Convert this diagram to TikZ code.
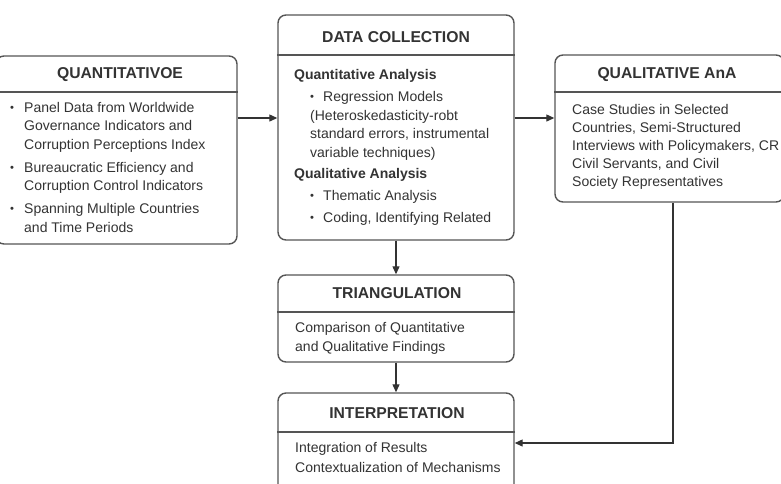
\documentclass[tikz,border=0pt]{standalone}
\usepackage{fontspec}
\setmainfont{Liberation Sans}
\usetikzlibrary{arrows.meta}
\definecolor{ink}{HTML}{333333}
\definecolor{edgegray}{HTML}{555555}
\definecolor{linegray}{HTML}{333333}
\newcommand{\bul}{\makebox[14pt][l]{\raisebox{0.15ex}{\scalebox{0.8}{\textbullet}}}}
\newcommand{\dbul}{\hspace*{16pt}\makebox[13pt][l]{\raisebox{0.15ex}{\scalebox{0.8}{\textbullet}}}}
\newcommand{\ind}{\hspace*{14pt}}
\newcommand{\topr}{\rule{0pt}{11pt}}
\begin{document}
\begin{tikzpicture}[x=1pt,y=-1pt,
  box/.style={draw=edgegray, line width=1.4pt, rounded corners=8pt, inner sep=0pt, fill=white},
  divider/.style={draw=edgegray, line width=1.4pt},
  head/.style={font=\bfseries\fontsize{15.7}{18}\selectfont, text=ink, inner sep=0pt, anchor=center},
  body/.style={font=\fontsize{14}{18.5}\selectfont, text=ink, align=left, inner sep=0pt, anchor=north west},
  conn/.style={draw=linegray, line width=1.2pt, -{Triangle[length=8pt,width=7pt]}}
]
\useasboundingbox (0,0) rectangle (781,483);

% boxes
\node[box, minimum width=241pt, minimum height=188pt] (left) at (116.5,150) {};
\node[box, minimum width=236pt, minimum height=225pt] (dc) at (396,127.5) {};
\node[box, minimum width=229pt, minimum height=147pt] (qual) at (669.5,128.5) {};
\node[box, minimum width=236pt, minimum height=87pt] (tri) at (396,318.5) {};
\node[box, minimum width=236pt, minimum height=107pt] (int) at (396,446.5) {};

% dividers
\draw[divider] (left.west |- 0,92) -- (left.east |- 0,92);
\draw[divider] (dc.west |- 0,55) -- (dc.east |- 0,55);
\draw[divider] (qual.west |- 0,92) -- (qual.east |- 0,92);
\draw[divider] (tri.west |- 0,312) -- (tri.east |- 0,312);
\draw[divider] (int.west |- 0,432) -- (int.east |- 0,432);

% headers
\node[head] (lefth) at (120,75) {QUANTITATIVOE};
\node[head] (dch) at (396,37) {DATA COLLECTION};
\node[head] (qualh) at (667,75) {QUALITATIVE AnA};
\node[head] (trih) at (397,293) {TRIANGULATION};
\node[head] (inth) at (397,413) {INTERPRETATION};

% bodies (y = first baseline - 11)
\node[body] (leftb) at (10,101) {%
\topr\bul Panel Data from Worldwide\\
\ind Governance Indicators and\\
\ind Corruption Perceptions Index\\[4.5pt]
\bul Bureaucratic Efficiency and\\
\ind Corruption Control Indicators\\[4.5pt]
\bul Spanning Multiple Countries\\
\ind and Time Periods};

\node[body] (dcb) at (294,68.5) {%
\topr\textbf{Quantitative Analysis}\\[3.5pt]
\dbul Regression Models\\
\hspace*{16pt}(Heteroskedasticity-robt\\
\hspace*{16pt}standard errors, instrumental\\
\hspace*{16pt}variable techniques)\\[2.5pt]
\textbf{Qualitative Analysis}\\[3.5pt]
\dbul Thematic Analysis\\[3.5pt]
\dbul Coding, Identifying Related};

\node[body, font=\fontsize{14}{18}\selectfont] (qualb) at (572,103.5) {%
\topr Case Studies in Selected\\
Countries, Semi-Structured\\
Interviews with Policymakers, CR\\
Civil Servants, and Civil\\
Society Representatives};

\node[body, font=\fontsize{14}{19}\selectfont] (trib) at (295,321.5) {%
\topr Comparison of Quantitative\\
and Qualitative Findings};

\node[body, font=\fontsize{14}{20}\selectfont] (intb) at (295,441.5) {%
\topr Integration of Results\\
Contextualization of Mechanisms};

% connectors
\draw[conn] (left.east |- 0,118) -- (dc.west |- 0,118);
\draw[conn] (dc.east |- 0,118) -- (qual.west |- 0,118);
\draw[conn] (dc.south) -- (tri.north);
\draw[conn] (tri.south) -- (int.north);
\coordinate (bend) at (673,443);
\draw[conn] (qual.south -| bend) -- (bend) -- (int.east |- bend);
\end{tikzpicture}
\end{document}
